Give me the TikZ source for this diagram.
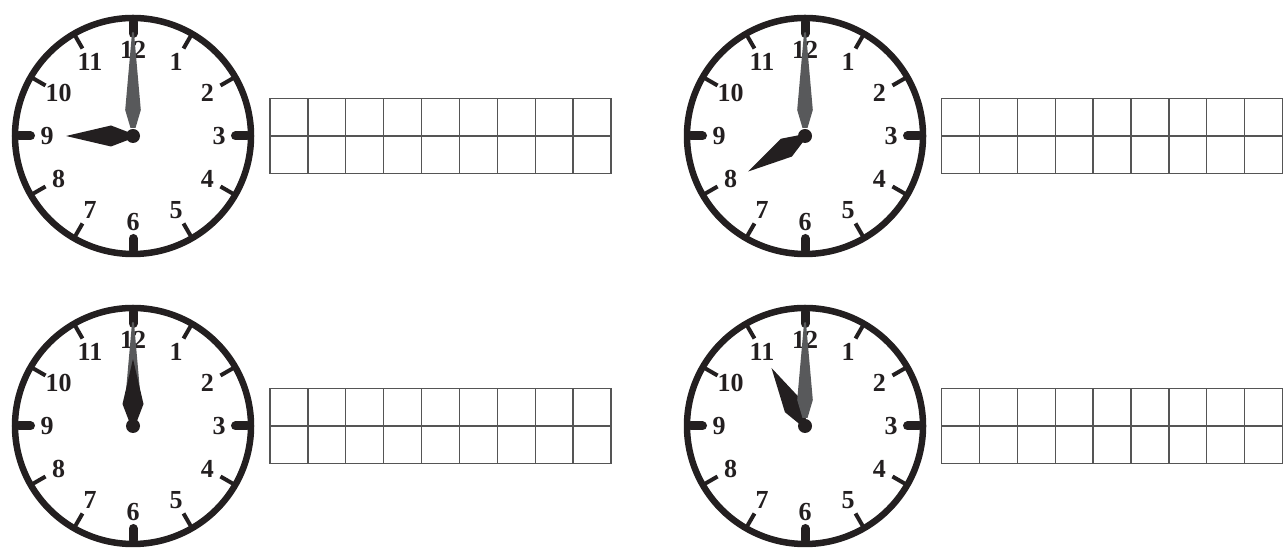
\documentclass[tikz,border=0pt]{standalone}
\usepackage{fontspec}
\setmainfont{Liberation Serif}
\definecolor{ink}{HTML}{231F20}
\definecolor{handgray}{HTML}{58595B}
\definecolor{gridgray}{HTML}{555555}
\tikzset{
  rim/.style={draw=ink, line width=6.5pt},
  majortick/.style={draw=ink, line width=9pt, line cap=round},
  minortick/.style={draw=ink, line width=4pt},
  num/.style={text=ink, inner sep=0pt, font=\bfseries\fontsize{26}{26}\selectfont},
  hourhand/.style={fill=ink},
  minutehand/.style={fill=handgray},
  hubdot/.style={fill=ink},
  answergrid/.style={draw=gridgray, line width=1.3pt}
}
\newcommand{\drawhourhand}[1]{\fill[hourhand, rotate=#1] (67,0) -- (22,10.5) -- (5,4) -- (5,-4) -- (22,-10.5) -- cycle;}
\newcommand{\drawminutehand}{\fill[minutehand] (0,104) -- (-1,103) -- (-7.8,26) -- (-2.5,8) -- (2.5,8) -- (7.8,26) -- (1,103) -- cycle;}
\newcommand{\clockface}[1]{%
  \draw[rim] (0,0) circle[radius=118];
  \foreach \i in {0,...,11}{
    \pgfmathtruncatemacro{\m}{mod(\i,3)}
    \ifnum\m=0
      \draw[majortick] ({90-30*\i}:102.5) -- ({90-30*\i}:114);
    \else
      \draw[minortick] ({90-30*\i}:101) -- ({90-30*\i}:118);
    \fi
  }
  \foreach \n in {1,...,12}{
    \node[num] (#1-\n) at ({90-30*\n}:86) {\n};
  }
}
\begin{document}
\begin{tikzpicture}[x=1pt,y=1pt]
\useasboundingbox (0,0) rectangle (1287,551);
% clock 1: 9:00
\begin{scope}[shift={(133,415)}]
  \clockface{ca}
  \drawminutehand
  \drawhourhand{180}
  \fill[hubdot] (0,0) circle[radius=7];
\end{scope}
% clock 2: 8:00
\begin{scope}[shift={(805,415)}]
  \clockface{cb}
  \drawminutehand
  \drawhourhand{212}
  \fill[hubdot] (0,0) circle[radius=7];
\end{scope}
% clock 3: 12:00
\begin{scope}[shift={(133,125)}]
  \clockface{cc}
  \drawminutehand
  \drawhourhand{90}
  \fill[hubdot] (0,0) circle[radius=7];
\end{scope}
% clock 4: 11:00
\begin{scope}[shift={(805,125)}]
  \clockface{cd}
  \drawhourhand{120}
  \drawminutehand
  \fill[hubdot] (0,0) circle[radius=7];
\end{scope}
% answer grids
\foreach \gx/\gy in {270/415, 941.5/415, 270/125, 941.5/125}{
  \begin{scope}[shift={(\gx,\gy)}]
    \draw[answergrid] (0,-37.75) rectangle (341,37.75);
    \draw[answergrid] (0,0) -- (341,0);
    \foreach \k in {1,...,8}{
      \draw[answergrid] ({\k*341/9},-37.75) -- ({\k*341/9},37.75);
    }
  \end{scope}
}
\end{tikzpicture}
\end{document}
